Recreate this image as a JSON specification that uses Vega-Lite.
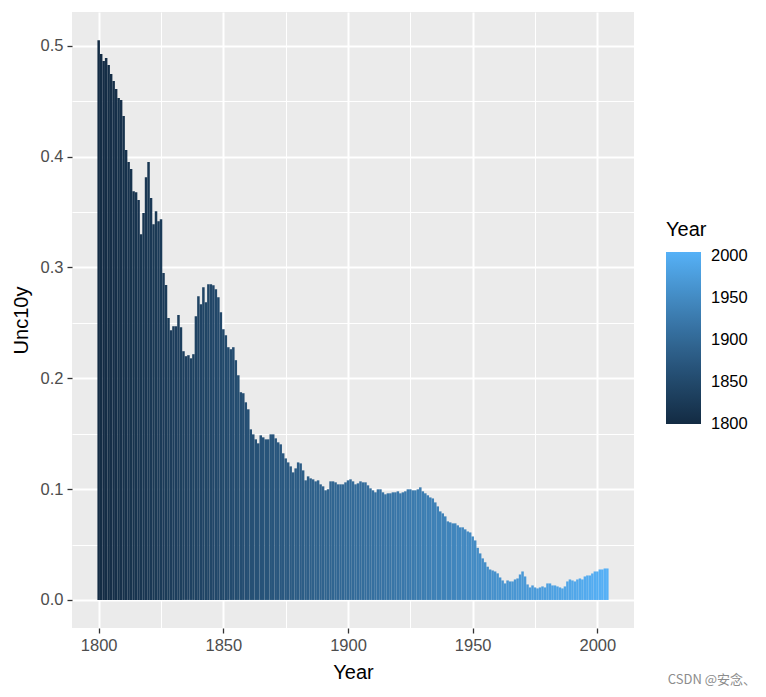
{
"$schema": "https://vega.github.io/schema/vega-lite/v6.json",
"width": 562, "height": 616,
"autosize": {"type": "none"},
"padding": {"left": 72, "top": 12, "right": 132, "bottom": 69},
"background": "white",
"title": {"text": "CSDN @安念、", "orient": "bottom", "anchor": "end", "frame": "group", "fontSize": 13, "fontWeight": "normal", "color": "#8C8C8C", "font": "Noto Sans CJK SC", "offset": -9, "dx": 122},
"config": {
  "view": {"fill": "#EBEBEB", "stroke": null},
  "font": "Liberation Sans",
  "axis": {"labelFont": "Liberation Sans", "labelFontSize": 16.5, "labelColor": "#4D4D4D", "tickColor": "#333333", "tickSize": 5, "tickWidth": 1.3, "domain": false, "titleFont": "Liberation Sans", "titleFontSize": 20, "titleFontWeight": "normal", "titleColor": "#000000", "gridColor": "#FFFFFF"},
  "legend": {"labelFont": "Liberation Sans", "titleFont": "Liberation Sans"}
},
"data": {"values": [
{"Year":1800,"Unc10y":0.505},{"Year":1801,"Unc10y":0.4925},{"Year":1802,"Unc10y":0.4862},{"Year":1803,"Unc10y":0.4889},{"Year":1804,"Unc10y":0.4826},
{"Year":1805,"Unc10y":0.4745},{"Year":1806,"Unc10y":0.4681},{"Year":1807,"Unc10y":0.4609},{"Year":1808,"Unc10y":0.4528},{"Year":1809,"Unc10y":0.451},
{"Year":1810,"Unc10y":0.4366},{"Year":1811,"Unc10y":0.4059},{"Year":1812,"Unc10y":0.395},{"Year":1813,"Unc10y":0.3887},{"Year":1814,"Unc10y":0.3688},
{"Year":1815,"Unc10y":0.3679},{"Year":1816,"Unc10y":0.3607},{"Year":1817,"Unc10y":0.33},{"Year":1818,"Unc10y":0.349},{"Year":1819,"Unc10y":0.3814},
{"Year":1820,"Unc10y":0.395},{"Year":1821,"Unc10y":0.3625},{"Year":1822,"Unc10y":0.339},{"Year":1823,"Unc10y":0.3507},{"Year":1824,"Unc10y":0.3417},
{"Year":1825,"Unc10y":0.3435},{"Year":1826,"Unc10y":0.295},{"Year":1827,"Unc10y":0.2841},{"Year":1828,"Unc10y":0.2543},{"Year":1829,"Unc10y":0.2433},
{"Year":1830,"Unc10y":0.2469},{"Year":1831,"Unc10y":0.2469},{"Year":1832,"Unc10y":0.257},{"Year":1833,"Unc10y":0.246},{"Year":1834,"Unc10y":0.2244},
{"Year":1835,"Unc10y":0.2199},{"Year":1836,"Unc10y":0.2208},{"Year":1837,"Unc10y":0.218},{"Year":1838,"Unc10y":0.2217},{"Year":1839,"Unc10y":0.256},
{"Year":1840,"Unc10y":0.274},{"Year":1841,"Unc10y":0.2668},{"Year":1842,"Unc10y":0.2821},{"Year":1843,"Unc10y":0.2686},{"Year":1844,"Unc10y":0.2849},
{"Year":1845,"Unc10y":0.2849},{"Year":1846,"Unc10y":0.284},{"Year":1847,"Unc10y":0.2803},{"Year":1848,"Unc10y":0.2731},{"Year":1849,"Unc10y":0.2596},
{"Year":1850,"Unc10y":0.2443},{"Year":1851,"Unc10y":0.2388},{"Year":1852,"Unc10y":0.228},{"Year":1853,"Unc10y":0.2262},{"Year":1854,"Unc10y":0.228},
{"Year":1855,"Unc10y":0.2163},{"Year":1856,"Unc10y":0.2027},{"Year":1857,"Unc10y":0.1874},{"Year":1858,"Unc10y":0.1865},{"Year":1859,"Unc10y":0.1783},
{"Year":1860,"Unc10y":0.172},{"Year":1861,"Unc10y":0.1539},{"Year":1862,"Unc10y":0.1494},{"Year":1863,"Unc10y":0.1449},{"Year":1864,"Unc10y":0.1413},
{"Year":1865,"Unc10y":0.1485},{"Year":1866,"Unc10y":0.1467},{"Year":1867,"Unc10y":0.1449},{"Year":1868,"Unc10y":0.1449},{"Year":1869,"Unc10y":0.1494},
{"Year":1870,"Unc10y":0.1494},{"Year":1871,"Unc10y":0.1458},{"Year":1872,"Unc10y":0.1422},{"Year":1873,"Unc10y":0.1404},{"Year":1874,"Unc10y":0.1323},
{"Year":1875,"Unc10y":0.1277},{"Year":1876,"Unc10y":0.1241},{"Year":1877,"Unc10y":0.1205},{"Year":1878,"Unc10y":0.1151},{"Year":1879,"Unc10y":0.1187},
{"Year":1880,"Unc10y":0.1241},{"Year":1881,"Unc10y":0.1232},{"Year":1882,"Unc10y":0.1169},{"Year":1883,"Unc10y":0.1079},{"Year":1884,"Unc10y":0.1115},
{"Year":1885,"Unc10y":0.1097},{"Year":1886,"Unc10y":0.1088},{"Year":1887,"Unc10y":0.107},{"Year":1888,"Unc10y":0.1079},{"Year":1889,"Unc10y":0.1043},
{"Year":1890,"Unc10y":0.1025},{"Year":1891,"Unc10y":0.0989},{"Year":1892,"Unc10y":0.0998},{"Year":1893,"Unc10y":0.107},{"Year":1894,"Unc10y":0.107},
{"Year":1895,"Unc10y":0.1061},{"Year":1896,"Unc10y":0.1043},{"Year":1897,"Unc10y":0.1043},{"Year":1898,"Unc10y":0.1043},{"Year":1899,"Unc10y":0.1061},
{"Year":1900,"Unc10y":0.1079},{"Year":1901,"Unc10y":0.1088},{"Year":1902,"Unc10y":0.107},{"Year":1903,"Unc10y":0.1043},{"Year":1904,"Unc10y":0.1052},
{"Year":1905,"Unc10y":0.107},{"Year":1906,"Unc10y":0.1061},{"Year":1907,"Unc10y":0.1061},{"Year":1908,"Unc10y":0.1034},{"Year":1909,"Unc10y":0.1007},
{"Year":1910,"Unc10y":0.0989},{"Year":1911,"Unc10y":0.0971},{"Year":1912,"Unc10y":0.0998},{"Year":1913,"Unc10y":0.0998},{"Year":1914,"Unc10y":0.0971},
{"Year":1915,"Unc10y":0.0953},{"Year":1916,"Unc10y":0.0962},{"Year":1917,"Unc10y":0.0962},{"Year":1918,"Unc10y":0.0971},{"Year":1919,"Unc10y":0.0971},
{"Year":1920,"Unc10y":0.098},{"Year":1921,"Unc10y":0.0962},{"Year":1922,"Unc10y":0.0971},{"Year":1923,"Unc10y":0.098},{"Year":1924,"Unc10y":0.0998},
{"Year":1925,"Unc10y":0.0998},{"Year":1926,"Unc10y":0.0989},{"Year":1927,"Unc10y":0.0989},{"Year":1928,"Unc10y":0.0998},{"Year":1929,"Unc10y":0.1016},
{"Year":1930,"Unc10y":0.098},{"Year":1931,"Unc10y":0.0962},{"Year":1932,"Unc10y":0.0944},{"Year":1933,"Unc10y":0.0925},{"Year":1934,"Unc10y":0.0916},
{"Year":1935,"Unc10y":0.088},{"Year":1936,"Unc10y":0.0844},{"Year":1937,"Unc10y":0.0799},{"Year":1938,"Unc10y":0.0781},{"Year":1939,"Unc10y":0.0754},
{"Year":1940,"Unc10y":0.0709},{"Year":1941,"Unc10y":0.07},{"Year":1942,"Unc10y":0.0691},{"Year":1943,"Unc10y":0.0691},{"Year":1944,"Unc10y":0.0673},
{"Year":1945,"Unc10y":0.0655},{"Year":1946,"Unc10y":0.0655},{"Year":1947,"Unc10y":0.0637},{"Year":1948,"Unc10y":0.0618},{"Year":1949,"Unc10y":0.0609},
{"Year":1950,"Unc10y":0.0573},{"Year":1951,"Unc10y":0.0537},{"Year":1952,"Unc10y":0.047},{"Year":1953,"Unc10y":0.042},{"Year":1954,"Unc10y":0.0375},
{"Year":1955,"Unc10y":0.034},{"Year":1956,"Unc10y":0.03},{"Year":1957,"Unc10y":0.0275},{"Year":1958,"Unc10y":0.0266},{"Year":1959,"Unc10y":0.0257},
{"Year":1960,"Unc10y":0.024},{"Year":1961,"Unc10y":0.0203},{"Year":1962,"Unc10y":0.0176},{"Year":1963,"Unc10y":0.0149},{"Year":1964,"Unc10y":0.0176},
{"Year":1965,"Unc10y":0.0167},{"Year":1966,"Unc10y":0.0167},{"Year":1967,"Unc10y":0.0185},{"Year":1968,"Unc10y":0.0194},{"Year":1969,"Unc10y":0.023},
{"Year":1970,"Unc10y":0.0257},{"Year":1971,"Unc10y":0.0212},{"Year":1972,"Unc10y":0.014},{"Year":1973,"Unc10y":0.0113},{"Year":1974,"Unc10y":0.0131},
{"Year":1975,"Unc10y":0.0113},{"Year":1976,"Unc10y":0.0104},{"Year":1977,"Unc10y":0.0113},{"Year":1978,"Unc10y":0.0122},{"Year":1979,"Unc10y":0.0113},
{"Year":1980,"Unc10y":0.0149},{"Year":1981,"Unc10y":0.0149},{"Year":1982,"Unc10y":0.0131},{"Year":1983,"Unc10y":0.0131},{"Year":1984,"Unc10y":0.0122},
{"Year":1985,"Unc10y":0.0113},{"Year":1986,"Unc10y":0.0104},{"Year":1987,"Unc10y":0.0122},{"Year":1988,"Unc10y":0.0167},{"Year":1989,"Unc10y":0.0185},
{"Year":1990,"Unc10y":0.0176},{"Year":1991,"Unc10y":0.0167},{"Year":1992,"Unc10y":0.0185},{"Year":1993,"Unc10y":0.0194},{"Year":1994,"Unc10y":0.0185},
{"Year":1995,"Unc10y":0.0212},{"Year":1996,"Unc10y":0.0221},{"Year":1997,"Unc10y":0.0221},{"Year":1998,"Unc10y":0.0239},{"Year":1999,"Unc10y":0.0257},
{"Year":2000,"Unc10y":0.0257},{"Year":2001,"Unc10y":0.0275},{"Year":2002,"Unc10y":0.0275},{"Year":2003,"Unc10y":0.0284},{"Year":2004,"Unc10y":0.0284}
]},
"layer": [
  {
    "mark": {"type": "point", "opacity": 0},
    "encoding": {
      "x": {"field": "Year", "type": "quantitative", "scale": {"domain": [1789.3, 2014.7], "nice": false, "zero": false, "padding": 0},
            "axis": {"orient": "top", "values": [1825, 1875, 1925, 1975], "labels": false, "ticks": false, "domain": false, "title": null, "grid": true, "gridWidth": 1}},
      "y": {"field": "Unc10y", "type": "quantitative", "scale": {"domain": [-0.0253, 0.5304], "nice": false, "zero": false, "padding": 0},
            "axis": {"orient": "right", "values": [0.05, 0.15, 0.25, 0.35, 0.45], "labels": false, "ticks": false, "domain": false, "title": null, "grid": true, "gridWidth": 1}}
    }
  },
  {
    "mark": {"type": "bar", "size": 2.5},
    "encoding": {
      "x": {"field": "Year", "type": "quantitative", "scale": {"domain": [1789.3, 2014.7], "nice": false, "zero": false, "padding": 0},
            "axis": {"orient": "bottom", "values": [1800, 1850, 1900, 1950, 2000], "format": "d", "grid": true, "gridWidth": 2, "title": "Year", "labelPadding": 4, "titlePadding": 9}},
      "y": {"field": "Unc10y", "type": "quantitative", "scale": {"domain": [-0.0253, 0.5304], "nice": false, "zero": false, "padding": 0},
            "axis": {"orient": "left", "values": [0, 0.1, 0.2, 0.3, 0.4, 0.5], "format": ".1f", "grid": true, "gridWidth": 2, "title": "Unc10y", "labelPadding": 4, "titlePadding": 9}},
      "color": {"field": "Year", "type": "quantitative",
                "scale": {"domain": [1799.7, 2004.3], "range": ["#132B43", "#56B1F7"], "interpolate": "lab"},
                "legend": {"orient": "none", "legendX": 594, "legendY": 208, "direction": "vertical", "title": "Year", "titleFontSize": 20, "titleFontWeight": "normal", "titleColor": "#000000", "titlePadding": 12, "gradientLength": 172, "gradientThickness": 35, "gradientStrokeWidth": 0, "values": [1800, 1850, 1900, 1950, 2000], "format": "d", "labelFontSize": 16.5, "labelColor": "#000000", "labelOffset": 10, "labelOverlap": false, "padding": 0}}
    }
  }
],
"resolve": {"axis": {"x": "independent", "y": "independent"}}
}
